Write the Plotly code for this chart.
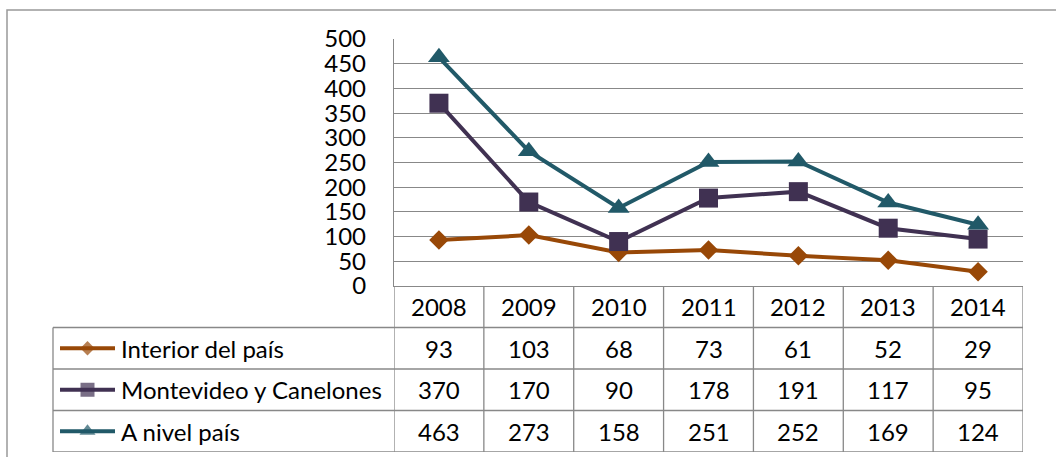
import plotly.graph_objects as go

years = ["2008", "2009", "2010", "2011", "2012", "2013", "2014"]
series_names = ["Interior del país", "Montevideo y Canelones", "A nivel país"]
interior = [93, 103, 68, 73, 61, 52, 29]
montevideo = [370, 170, 90, 178, 191, 117, 95]
pais = [463, 273, 158, 251, 252, 169, 124]
y_ticks = [0, 50, 100, 150, 200, 250, 300, 350, 400, 450, 500]

series_values = [interior, montevideo, pais]
colors = ["#984807", "#403152", "#215968"]
symbols = ["diamond", "square", "triangle-up"]
msizes = [15, 19, 19]
lsizes = [11, 14, 14]

W, H = 1056, 457
GRID = "#888888"
FONT = "Lato"
FS = 24

def px(x):
    return x / W

def py(y):
    return 1 - y / H

plot_l, plot_r, plot_t, plot_b = 394, 1023, 39, 286
tab_b = 452
leg_l = 53

fig = go.Figure()

for name, vals, c, s, ms in zip(series_names, series_values, colors, symbols, msizes):
    fig.add_trace(go.Scatter(
        x=years, y=vals, name=name, mode="lines+markers",
        line=dict(color=c, width=4),
        marker=dict(symbol=s, size=ms, color=c, line=dict(width=0)),
        cliponaxis=False, xaxis="x", yaxis="y", showlegend=False,
    ))

# legend keys inside the data table (on a pixel-like helper axis)
n = len(series_names)
for k, (c, s, ms) in enumerate(zip(colors, symbols, lsizes)):
    rowc = n - 0.5 - k
    fig.add_trace(go.Scatter(
        x=[60, 87.5, 115], y=[rowc, rowc, rowc], mode="lines+markers",
        line=dict(color=c, width=4),
        marker=dict(symbol=s, size=[0, ms, 0], color=c, line=dict(width=0)),
        xaxis="x3", yaxis="y2", showlegend=False, hoverinfo="skip",
    ))

shapes = []
nrows = n + 1
for j in range(len(years) + 1):
    shapes.append(dict(type="line", xref="x", yref="y2", x0=j - 0.5, x1=j - 0.5,
                       y0=0, y1=nrows, line=dict(color=GRID, width=1.3)))
for r in range(n + 1):
    shapes.append(dict(type="line", xref="paper", yref="y2", x0=px(leg_l), x1=px(plot_r),
                       y0=r, y1=r, line=dict(color=GRID, width=1.3)))
shapes.append(dict(type="line", xref="paper", yref="y2", x0=px(leg_l), x1=px(leg_l),
                   y0=0, y1=n, line=dict(color=GRID, width=1.3)))
shapes.append(dict(type="rect", xref="paper", yref="paper", x0=px(7), x1=1.02,
                   y0=-0.02, y1=py(10), line=dict(color="#999999", width=1.5)))

annotations = []
for i, yr in enumerate(years):
    annotations.append(dict(x=i, y=nrows - 0.5, xref="x", yref="y2", text=yr,
                            showarrow=False, font=dict(family=FONT, size=FS, color="black")))
for k, (name, vals) in enumerate(zip(series_names, series_values)):
    rowc = n - 0.5 - k
    annotations.append(dict(x=px(119), y=rowc, xref="paper", yref="y2", text=name,
                            xanchor="left", showarrow=False,
                            font=dict(family=FONT, size=FS, color="black")))
    for i, v in enumerate(vals):
        annotations.append(dict(x=i, y=rowc, xref="x", yref="y2", text=str(v),
                                showarrow=False, font=dict(family=FONT, size=FS, color="black")))

fig.update_layout(
    width=W, height=H, margin=dict(l=0, r=0, t=0, b=0, pad=0, autoexpand=False),
    paper_bgcolor="white", plot_bgcolor="white", showlegend=False,
    font=dict(family=FONT, size=FS, color="black"),
    xaxis=dict(domain=[px(plot_l), px(plot_r)], type="category", range=[-0.5, len(years) - 0.5],
               showticklabels=False, showgrid=False, zeroline=False, ticks="", automargin=False,
               showline=True, linecolor=GRID, linewidth=1.3, anchor="y", fixedrange=True),
    yaxis=dict(domain=[py(plot_b), py(plot_t)], range=[0, 500], tickvals=y_ticks,
               ticktext=[str(t) for t in y_ticks], showgrid=True, gridcolor=GRID, gridwidth=1.3,
               zeroline=False, showline=True, linecolor=GRID, linewidth=1.3, automargin=False,
               ticks="", ticklabelstandoff=22, anchor="x",
               tickfont=dict(family=FONT, size=FS, color="black")),
    yaxis2=dict(domain=[py(tab_b), py(plot_b)], range=[0, nrows], visible=False, anchor="x"),
    xaxis3=dict(domain=[0, 1], range=[0, W], visible=False, anchor="y2"),
    shapes=shapes, annotations=annotations,
)

fig.write_html("out.html", config={"displayModeBar": False},
               post_script="document.body.style.margin='0';document.body.style.overflow='hidden';")
